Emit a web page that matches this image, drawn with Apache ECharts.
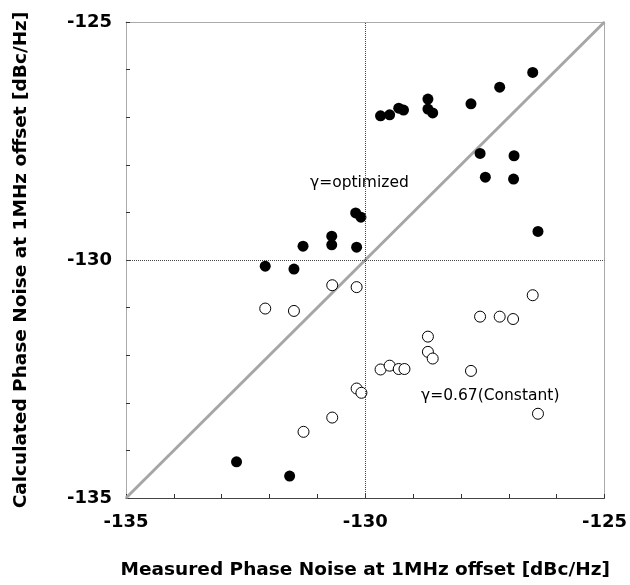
<!DOCTYPE html>
<html>
<head>
<meta charset="utf-8">
<script src="https://cdn.jsdelivr.net/npm/echarts@6/dist/echarts.min.js"></script>
<style>
  html, body { margin: 0; padding: 0; background: #fff; }
  #chart { width: 630px; height: 585px; }
</style>
</head>
<body>
<div id="chart"></div>
<script>
// gamma = optimized (filled)
const optX = [-129.68, -129.49, -129.30, -129.20, -128.69, -128.69, -128.59, -127.79, -127.19, -126.50,
              -127.60, -126.89, -127.49, -126.90, -126.39, -130.20, -130.09, -130.70, -130.70, -131.30,
              -130.18, -132.09, -131.49, -132.69, -131.58];
const optY = [-126.97, -126.95, -126.81, -126.85, -126.62, -126.83, -126.91, -126.72, -126.37, -126.06,
              -127.76, -127.81, -128.26, -128.30, -129.40, -129.01, -129.10, -129.50, -129.68, -129.71,
              -129.73, -130.13, -130.19, -134.24, -134.54];
// gamma = 0.67 constant (open)
const constX = [-130.69, -130.18, -132.09, -131.49, -130.18, -130.08, -130.69, -131.29, -126.50, -127.60,
                -127.19, -126.91, -128.69, -128.69, -128.59, -129.68, -129.49, -129.30, -129.18, -127.79,
                -126.39];
const constY = [-130.53, -130.57, -131.02, -131.07, -132.70, -132.79, -133.31, -133.61, -130.74, -131.19,
                -131.19, -131.24, -131.61, -131.93, -132.07, -132.30, -132.22, -132.29, -132.29, -132.33,
                -133.23];
const diagX = [-135, -125];
const diagY = [-135, -125];
const majorTicks = [-135, -130, -125];

const zip = (xs, ys) => xs.map((x, i) => [x, ys[i]]);

const chart = echarts.init(document.getElementById('chart'));
const labelFont = { color: '#000', fontFamily: 'DejaVu Sans', fontWeight: 'bold', fontSize: 18 };
const nameFont = { color: '#000', fontFamily: 'DejaVu Sans', fontWeight: 'bold', fontSize: 18.5 };

function makeAxis(lineColor) {
  return {
    type: 'value',
    min: -135,
    max: -125,
    interval: 1,
    axisLine: { show: true, onZero: false, lineStyle: { color: lineColor, width: 1 } },
    axisTick: { show: true, inside: true, length: 4, lineStyle: { color: '#333', width: 1 } },
    splitLine: { show: false },
    nameLocation: 'middle',
    nameTextStyle: nameFont
  };
}
// plain frame lines for top and right
function frameAxis(pos) {
  return {
    type: 'value', min: -135, max: -125, position: pos,
    axisLine: { show: true, onZero: false, lineStyle: { color: '#aaa', width: 1 } },
    axisTick: { show: false }, axisLabel: { show: false }, splitLine: { show: false }
  };
}
const majorOnly = v => (majorTicks.indexOf(v) >= 0 ? String(v) : '');

chart.setOption({
  animation: false,
  backgroundColor: '#fff',
  grid: { left: 126, right: 23, top: 22, bottom: 84 },
  xAxis: [
    Object.assign(makeAxis('#444'), {
      position: 'bottom',
      name: 'Measured Phase Noise at 1MHz offset [dBc/Hz]',
      nameGap: 63,
      axisLabel: Object.assign({ margin: 15, formatter: majorOnly }, labelFont)
    }),
    frameAxis('top')
  ],
  yAxis: [
    Object.assign(makeAxis('#aaa'), {
      position: 'left',
      name: 'Calculated Phase Noise at 1MHz offset [dBc/Hz]',
      nameGap: 95,
      axisLabel: Object.assign({ margin: 14, formatter: majorOnly }, labelFont)
    }),
    frameAxis('right')
  ],
  graphic: [
    { type: 'text', x: 310, y: 183,
      style: { text: 'γ=optimized', font: '15.5px "DejaVu Sans"', fill: '#000', verticalAlign: 'middle' } },
    { type: 'text', x: 421, y: 396,
      style: { text: 'γ=0.67(Constant)', font: '15.5px "DejaVu Sans"', fill: '#000', verticalAlign: 'middle' } }
  ],
  series: [
    {
      type: 'line',
      data: zip(diagX, diagY),
      symbol: 'none',
      lineStyle: { color: '#a6a6a6', width: 3 },
      z: 1,
      markLine: {
        silent: true,
        symbol: 'none',
        label: { show: false },
        lineStyle: { color: '#444', type: 'dotted', width: 1 },
        data: [{ xAxis: -130 }, { yAxis: -130 }]
      }
    },
    {
      name: 'optimized',
      type: 'scatter',
      data: zip(optX, optY),
      symbol: 'circle',
      symbolSize: 11,
      itemStyle: { color: '#000', opacity: 1 },
      z: 3
    },
    {
      name: 'constant',
      type: 'scatter',
      data: zip(constX, constY),
      symbol: 'circle',
      symbolSize: 11,
      itemStyle: { color: '#fff', borderColor: '#000', borderWidth: 1, opacity: 1 },
      z: 3
    }
  ]
});
</script>
</body>
</html>
